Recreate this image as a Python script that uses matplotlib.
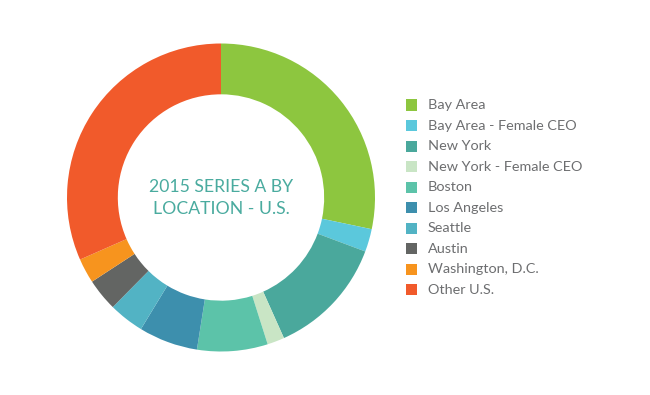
import matplotlib.pyplot as plt
from matplotlib.patches import Rectangle

labels = ["Bay Area", "Bay Area - Female CEO", "New York", "New York - Female CEO",
          "Boston", "Los Angeles", "Seattle", "Austin", "Washington, D.C.", "Other U.S."]
shares = [28.3, 2.4, 12.6, 1.8, 7.4, 6.2, 3.7, 3.4, 2.6, 31.6]
colors = ["#8dc63f", "#5bc8dc", "#4aa89c", "#c9e5c5", "#5cc3a9",
          "#3d8fad", "#52b3c4", "#636563", "#f7941e", "#f15a2b"]
title_lines = ["2015 SERIES A BY", "LOCATION - U.S."]

W, H = 650, 395
fig = plt.figure(figsize=(W / 100, H / 100), dpi=100)
plt.rcParams["font.family"] = ["Lato", "DejaVu Sans"]

cx, cy, r = 221, 197.5, 154
ax = fig.add_axes([(cx - r) / W, (H - cy - r) / H, 2 * r / W, 2 * r / H])
ax.pie(shares, colors=colors, startangle=90, counterclock=False,
       radius=1, wedgeprops=dict(width=0.33, linewidth=0))
ax.set_xlim(-1, 1)
ax.set_ylim(-1, 1)
ax.set_aspect("equal")
ax.axis("off")

ax.text(0, 0.07, title_lines[0], ha="center", va="center", fontsize=12.7,
        color="#4aab9f")
ax.text(0, -0.075, title_lines[1], ha="center", va="center", fontsize=12.7,
        color="#4aab9f")

# legend drawn by hand
y0, step, sq = 105, 20.55, 11
for i, (lab, col) in enumerate(zip(labels, colors)):
    y = y0 + i * step
    fig.patches.append(Rectangle((406 / W, (H - y - sq / 2) / H), sq / W, sq / H,
                                 transform=fig.transFigure, color=col, lw=0))
    fig.text(428 / W, (H - y) / H, lab, ha="left", va="center",
             fontsize=10.4, color="#6d6e70")

fig.savefig("out.png", dpi=100)
